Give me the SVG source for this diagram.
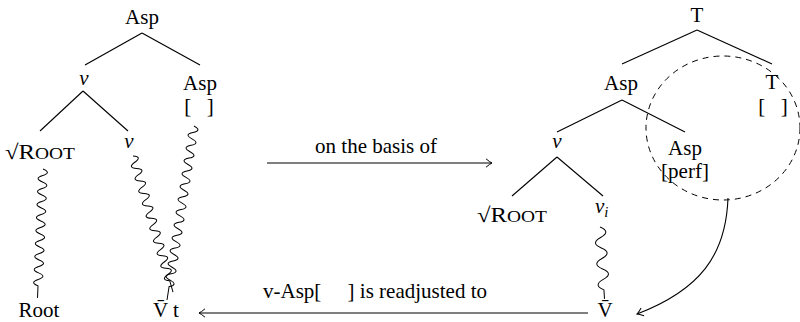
<svg xmlns="http://www.w3.org/2000/svg" width="800" height="322" viewBox="0 0 800 322">
<style>
text{font-family:'Liberation Serif','Tinos','Times New Roman','Times','Nimbus Roman','Nimbus Roman No9 L','FreeSerif','Noto Serif','DejaVu Serif',serif;font-size:21px;fill:#000}
.c{text-anchor:middle}
.it{font-style:italic}
.e{stroke:#000;stroke-width:1.1;fill:none}
.w{stroke:#000;stroke-width:1;fill:none}
.a{stroke:#000;stroke-width:1.1;fill:none;marker-end:url(#to)}
</style>
<defs>
<marker id="to" viewBox="-8 -6 10 12" refX="0" refY="0" markerWidth="10" markerHeight="12" markerUnits="userSpaceOnUse" orient="auto" overflow="visible">
<path d="M-6,-4.2 Q-2,-0.8 0,0 Q-2,0.8 -6,4.2" stroke="#000" stroke-width="1" fill="none"/>
</marker>
</defs>
<g id="connectors">
<line class="e" x1="142" y1="33" x2="85" y2="65"/>
<line class="e" x1="142" y1="33" x2="200" y2="65"/>
<line class="e" x1="83" y1="91" x2="40" y2="131"/>
<line class="e" x1="83" y1="91" x2="128" y2="131"/>
<line class="e" x1="697" y1="30" x2="622" y2="64"/>
<line class="e" x1="697" y1="30" x2="772" y2="64"/>
<line class="e" x1="622" y1="100" x2="557" y2="132"/>
<line class="e" x1="622" y1="100" x2="685" y2="132"/>
<line class="e" x1="557" y1="157" x2="512" y2="196"/>
<line class="e" x1="557" y1="157" x2="603" y2="196"/>
<path class="w" transform="translate(43,169) rotate(2.44)" d="M0,0 q9,3.25 0,6.5 t0,6.5 t0,6.5 t0,6.5 t0,6.5 t0,6.5 t0,6.5 t0,6.5 t0,6.5 t0,6.5 t0,6.5 t0,6.5 t0,6.5 t0,6.5 t0,6.5 t0,6.5 t0,6.5 t0,6.5 l0,12"/>
<path class="w" transform="translate(133,156) rotate(-16.4)" d="M0,0 q9,3.25 0,6.5 t0,6.5 t0,6.5 t0,6.5 t0,6.5 t0,6.5 t0,6.5 t0,6.5 t0,6.5 t0,6.5 t0,6.5 t0,6.5 t0,6.5 t0,6.5 t0,6.5 t0,6.5 t0,6.5 t0,6.5 t0,6.5 t0,6.5 l0,11.8"/>
<path class="w" transform="translate(194,126) rotate(8.82)" d="M0,0 q9,3.25 0,6.5 t0,6.5 t0,6.5 t0,6.5 t0,6.5 t0,6.5 t0,6.5 t0,6.5 t0,6.5 t0,6.5 t0,6.5 t0,6.5 t0,6.5 t0,6.5 t0,6.5 t0,6.5 t0,6.5 t0,6.5 t0,6.5 t0,6.5 t0,6.5 t0,6.5 t0,6.5 t0,6.5 t0,6.5 l0,13.6"/>
<path class="w" transform="translate(600,227) rotate(-3.58)" d="M0,0 q11,5.25 0,10.5 t0,10.5 t0,10.5 t0,10.5 t0,10.5 t0,10.5 l0,9"/>
<line class="a" x1="267" y1="163" x2="492" y2="163"/>
<line class="a" x1="588" y1="313" x2="199" y2="313"/>
<path class="a" d="M728,198 C726,255 700,290 637,314"/>
</g>
<g id="circle">
<ellipse cx="723" cy="128" rx="77" ry="72" fill="none" stroke="#000" stroke-width="1" stroke-dasharray="6 5"/>
</g>
<g id="left-asp-root"><text class="c" x="142" y="24">Asp</text></g>
<g id="left-v"><text class="c it" x="84" y="85">v</text></g>
<g id="left-asp"><text class="c" x="200" y="90">Asp</text><text class="c" x="199" y="113">[&#160;&#160;&#160;]</text></g>
<g id="left-root"><text x="5" y="159" textLength="70" lengthAdjust="spacingAndGlyphs">√R<tspan font-size="16.5">OOT</tspan></text></g>
<g id="left-v2"><text class="c it" x="129" y="148">v</text></g>
<g id="left-Root"><text class="c" x="39" y="317">Root</text></g>
<g id="left-Vt"><text x="153" y="317">V&#x304; t</text></g>
<g id="label-top"><text class="c" x="376" y="153">on the basis of</text></g>
<g id="label-bottom"><text class="c" x="375" y="298">v-Asp[&#160;&#160;&#160;&#160;&#160;] is readjusted to</text></g>
<g id="right-T-root"><text class="c" x="697" y="22">T</text></g>
<g id="right-asp"><text class="c" x="621" y="90">Asp</text></g>
<g id="right-T"><text class="c" x="772" y="89">T</text><text class="c" x="773" y="113">[&#160;&#160;&#160;]</text></g>
<g id="right-v"><text class="c it" x="557" y="148">v</text></g>
<g id="right-asp-perf"><text class="c" x="685" y="155">Asp</text><text class="c" x="685" y="178">[perf]</text></g>
<g id="right-root"><text x="477" y="222" textLength="70" lengthAdjust="spacingAndGlyphs">√R<tspan font-size="16.5">OOT</tspan></text></g>
<g id="right-vi"><text class="it" x="595" y="213">v<tspan font-size="14.7" dy="4">i</tspan></text></g>
<g id="right-V"><text class="c" x="605" y="317">V&#x304;</text></g>
</svg>
